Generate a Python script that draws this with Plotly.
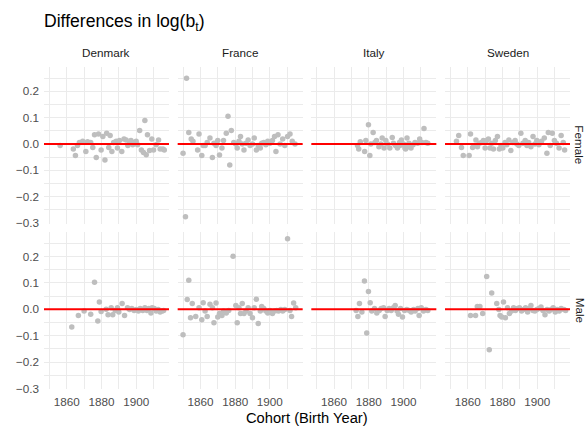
import plotly.graph_objects as go
from plotly.subplots import make_subplots

countries = ["Denmark", "France", "Italy", "Sweden"]
sexes = ["Female", "Male"]
x_ticks = [1860, 1880, 1900]

# ---- Female ----
denmark_female_year = [1856.2, 1863.8, 1865.0, 1866.2, 1867.3, 1869.2, 1871.0, 1872.0, 1873.8, 1875.0,
                       1876.0, 1877.0, 1878.3, 1879.8, 1880.8, 1882.0, 1883.0, 1884.2, 1885.0, 1886.0,
                       1887.0, 1888.5, 1889.2, 1890.4, 1891.7, 1893.0, 1894.2, 1895.2, 1896.2, 1897.0,
                       1898.0, 1899.0, 1900.0, 1900.8, 1902.0, 1903.0, 1904.2, 1905.0, 1905.8, 1906.5,
                       1907.7, 1909.0, 1910.0, 1911.5, 1912.9, 1913.8, 1915.4, 1916.2]
denmark_female_diff = [-0.006, -0.019, -0.044, -0.006, 0.006, 0.010, -0.028, 0.009, 0.006, -0.013,
                       0.035, -0.051, 0.038, -0.023, 0.028, -0.061, 0.041, -0.013, 0.032, -0.028,
                       0.006, 0.010, -0.015, 0.013, -0.028, 0.019, 0.015, -0.006, 0.003, 0.013,
                       -0.003, 0.006, 0.010, -0.003, 0.051, -0.023, -0.032, 0.089, -0.041, 0.035,
                       -0.025, 0.019, -0.023, -0.003, 0.015, -0.019, -0.019, -0.023]

france_female_year = [1850.0, 1852.0, 1851.4, 1853.3, 1854.7, 1855.7, 1858.4, 1859.2, 1860.8, 1861.6,
                      1862.7, 1863.9, 1865.5, 1866.9, 1867.8, 1869.0, 1870.0, 1871.0, 1872.4, 1873.3,
                      1874.9, 1875.9, 1876.9, 1877.8, 1879.2, 1880.4, 1881.2, 1882.2, 1883.1, 1884.1,
                      1885.1, 1886.3, 1887.5, 1888.6, 1890.0, 1891.0, 1892.2, 1893.3, 1894.5, 1895.3,
                      1896.5, 1897.7, 1898.8, 1900.0, 1901.5, 1902.7, 1903.5, 1904.7, 1905.9, 1907.4,
                      1908.6, 1910.2, 1911.6, 1912.9, 1914.5]
france_female_diff = [-0.035, 0.249, -0.276, 0.044, 0.019, 0.010, -0.023, 0.038, -0.044, -0.006,
                      -0.006, 0.006, 0.023, -0.051, 0.003, -0.006, 0.013, -0.042, -0.015, 0.013,
                      0.041, 0.105, -0.080, 0.051, 0.006, 0.000, -0.015, 0.010, 0.028, 0.000,
                      -0.023, 0.003, 0.015, -0.006, 0.000, 0.023, -0.023, -0.006, -0.015, 0.003,
                      0.006, -0.003, 0.010, 0.003, 0.013, 0.028, -0.028, 0.035, 0.000, 0.019,
                      -0.006, 0.028, 0.038, 0.010, 0.000]

italy_female_year = [1873.5, 1874.2, 1875.1, 1877.6, 1878.3, 1879.8, 1880.6, 1881.2, 1882.5, 1883.5,
                     1884.4, 1885.8, 1887.0, 1887.7, 1888.8, 1889.8, 1890.8, 1892.1, 1893.5, 1894.2,
                     1895.4, 1896.5, 1897.7, 1897.9, 1898.8, 1899.8, 1900.0, 1900.8, 1901.2, 1902.0,
                     1902.7, 1903.1, 1904.3, 1905.5, 1906.6, 1908.2, 1909.3, 1910.6, 1911.8, 1912.9,
                     1914.0]
italy_female_diff = [-0.006, -0.019, 0.009, -0.028, 0.013, 0.073, -0.044, 0.000, 0.044, 0.006,
                     0.013, -0.010, 0.000, 0.023, -0.015, 0.013, 0.000, -0.015, 0.025, 0.003,
                     -0.006, -0.015, 0.006, -0.006, 0.015, -0.003, 0.000, -0.015, -0.019, 0.023,
                     -0.010, 0.003, -0.015, -0.003, 0.006, 0.003, 0.019, 0.006, 0.059, 0.006,
                     0.003]

sweden_female_year = [1853.5, 1854.8, 1856.4, 1857.4, 1860.8, 1861.6, 1862.8, 1863.7, 1864.7, 1865.6,
                      1866.6, 1868.0, 1869.0, 1870.0, 1870.9, 1871.9, 1872.8, 1873.8, 1874.8, 1875.9,
                      1877.1, 1878.2, 1879.2, 1880.2, 1881.5, 1882.5, 1883.7, 1884.8, 1886.0, 1887.3,
                      1888.3, 1889.4, 1890.6, 1891.8, 1893.1, 1894.1, 1895.1, 1896.4, 1897.6, 1898.7,
                      1899.8, 1901.0, 1902.5, 1904.1, 1905.6, 1906.4, 1907.5, 1908.7, 1909.9, 1911.1,
                      1912.6, 1913.8, 1915.0, 1915.8]
sweden_female_diff = [0.010, 0.032, -0.013, -0.044, -0.044, 0.038, -0.013, -0.006, 0.015, -0.010,
                      0.003, 0.006, 0.013, -0.015, 0.013, 0.019, -0.015, 0.003, -0.019, 0.013,
                      0.028, -0.019, -0.006, -0.015, 0.006, -0.003, 0.015, -0.025, 0.006, 0.013,
                      0.000, -0.006, 0.041, 0.003, 0.013, -0.006, 0.006, -0.010, 0.028, 0.000,
                      0.013, -0.003, 0.010, 0.023, -0.035, 0.044, -0.006, 0.041, 0.013, 0.003,
                      -0.015, 0.032, 0.006, -0.023]

# ---- Male ----
denmark_male_year = [1862.9, 1866.7, 1870.0, 1873.8, 1876.0, 1877.9, 1878.8, 1879.8, 1882.7, 1883.8,
                     1885.6, 1886.5, 1887.9, 1889.2, 1890.0, 1891.9, 1893.3, 1895.0, 1896.2, 1897.5,
                     1898.8, 1900.0, 1901.3, 1902.3, 1903.8, 1905.0, 1906.2, 1907.3, 1908.5, 1909.2,
                     1910.4, 1911.5, 1912.7, 1913.8, 1915.0, 1915.8]
denmark_male_diff = [-0.067, -0.023, -0.006, -0.019, 0.103, -0.044, 0.028, -0.008, 0.000, -0.020,
                     0.006, -0.020, -0.004, 0.006, -0.010, 0.022, -0.023, 0.006, -0.001, 0.003,
                     -0.004, -0.001, -0.006, 0.003, -0.004, 0.006, -0.004, 0.003, -0.014, 0.006,
                     0.003, -0.006, -0.001, -0.010, -0.006, -0.004]

france_male_year = [1850.0, 1852.4, 1853.3, 1854.3, 1855.3, 1857.3, 1859.2, 1860.8, 1861.6, 1862.7,
                    1863.9, 1865.5, 1866.9, 1867.8, 1869.0, 1870.0, 1871.0, 1872.4, 1873.3, 1874.9,
                    1876.3, 1878.8, 1880.4, 1881.2, 1882.2, 1883.1, 1884.1, 1885.1, 1886.3, 1887.5,
                    1888.6, 1890.0, 1891.0, 1892.2, 1893.3, 1894.5, 1895.3, 1896.5, 1897.7, 1898.8,
                    1900.0, 1901.5, 1902.7, 1903.9, 1905.0, 1906.3, 1907.4, 1908.6, 1910.2, 1911.6,
                    1912.5, 1913.7, 1914.9]
france_male_diff = [-0.096, 0.037, 0.110, -0.032, 0.022, -0.027, 0.006, -0.039, 0.025, -0.006,
                    -0.027, 0.019, 0.006, -0.051, 0.024, -0.029, -0.016, -0.023, -0.006, -0.014,
                    -0.004, 0.201, 0.015, -0.051, 0.006, -0.016, 0.022, -0.016, -0.006, 0.006,
                    -0.016, -0.032, 0.006, 0.038, -0.054, -0.006, 0.011, 0.003, -0.006, -0.014,
                    -0.004, -0.016, -0.006, -0.004, -0.006, -0.001, -0.006, -0.001, 0.268, -0.004,
                    -0.027, 0.024, 0.006]

italy_male_year = [1872.7, 1873.7, 1874.6, 1876.0, 1877.5, 1878.8, 1879.8, 1880.8, 1881.7, 1883.3,
                   1884.6, 1886.0, 1887.1, 1888.5, 1889.4, 1890.6, 1891.7, 1892.9, 1894.2, 1895.2,
                   1896.3, 1897.1, 1898.3, 1899.4, 1900.6, 1901.9, 1903.3, 1904.4, 1905.8, 1906.7,
                   1908.3, 1909.0, 1910.2, 1911.5, 1912.9, 1914.0]
italy_male_diff = [-0.004, -0.027, 0.022, -0.010, 0.108, -0.090, 0.068, 0.025, -0.006, 0.003,
                   -0.014, -0.004, 0.003, 0.006, -0.027, -0.004, 0.003, -0.004, 0.006, 0.015,
                   -0.006, -0.019, 0.003, -0.029, -0.004, -0.001, -0.004, -0.010, -0.001, -0.006,
                   0.003, -0.023, 0.006, -0.006, -0.001, -0.004]

sweden_male_year = [1861.6, 1864.5, 1865.5, 1867.0, 1868.6, 1870.9, 1872.4, 1873.8, 1876.7, 1877.9,
                    1878.6, 1879.6, 1880.6, 1881.7, 1882.9, 1884.0, 1885.2, 1886.4, 1887.5, 1888.7,
                    1889.8, 1891.0, 1892.2, 1893.3, 1894.5, 1895.6, 1896.4, 1897.6, 1898.7, 1899.8,
                    1901.0, 1902.2, 1903.3, 1904.5, 1905.7, 1906.9, 1908.0, 1909.2, 1910.4, 1911.5,
                    1912.7, 1913.8, 1915.4, 1916.4]
sweden_male_diff = [-0.023, -0.023, 0.011, 0.011, -0.016, 0.125, -0.153, 0.062, 0.022, -0.001,
                    -0.023, -0.029, 0.028, -0.032, 0.006, -0.016, -0.006, 0.006, -0.004, 0.003,
                    0.006, -0.006, -0.001, 0.006, -0.010, 0.003, 0.015, -0.004, -0.006, -0.001,
                    0.003, 0.009, -0.004, -0.020, -0.001, -0.006, -0.001, 0.006, -0.010, -0.001,
                    -0.006, 0.003, -0.001, -0.004]

panels = {
    ("Female", "Denmark"): (denmark_female_year, denmark_female_diff),
    ("Female", "France"): (france_female_year, france_female_diff),
    ("Female", "Italy"): (italy_female_year, italy_female_diff),
    ("Female", "Sweden"): (sweden_female_year, sweden_female_diff),
    ("Male", "Denmark"): (denmark_male_year, denmark_male_diff),
    ("Male", "France"): (france_male_year, france_male_diff),
    ("Male", "Italy"): (italy_male_year, italy_male_diff),
    ("Male", "Sweden"): (sweden_male_year, sweden_male_diff),
}

FONT = "Liberation Sans, Arial, sans-serif"
GRID = "#EBEBEB"

fig = make_subplots(rows=2, cols=4, shared_xaxes=True, shared_yaxes=True,
                    horizontal_spacing=0.0165, vertical_spacing=0.027)

for r, sex in enumerate(sexes, start=1):
    for c, country in enumerate(countries, start=1):
        xs, ys = panels[(sex, country)]
        fig.add_trace(go.Scatter(x=xs, y=ys, mode="markers",
                                 marker=dict(color="#BEBEBE", size=5.5, line=dict(width=0)),
                                 showlegend=False, hoverinfo="x+y"),
                      row=r, col=c)
        fig.add_hline(y=0, line=dict(color="#FF0000", width=2), layer="above", row=r, col=c)

fig.update_xaxes(range=[1846.9, 1918.9], tickmode="array", tickvals=x_ticks,
                 showgrid=True, gridcolor=GRID, gridwidth=1,
                 minor=dict(tickmode="linear", tick0=1850, dtick=10, showgrid=True,
                            gridcolor=GRID, gridwidth=0.6),
                 zeroline=False, showline=False, ticks="",
                 tickfont=dict(family=FONT, size=11.7, color="#4D4D4D"),
                 ticklabelstandoff=4)
fig.update_yaxes(range=[-0.302, 0.292], tickmode="linear", tick0=0, dtick=0.1, tickformat=".1f",
                 showgrid=True, gridcolor=GRID, gridwidth=1,
                 minor=dict(tickmode="linear", tick0=0.05, dtick=0.1, showgrid=True,
                            gridcolor=GRID, gridwidth=0.6),
                 zeroline=False, showline=False, ticks="",
                 tickfont=dict(family=FONT, size=11.7, color="#4D4D4D"),
                 ticklabelstandoff=4)

# strip labels
for c, country in enumerate(countries, start=1):
    xa = fig.get_subplot(1, c).xaxis.domain
    fig.add_annotation(text=country, xref="paper", yref="paper",
                       x=(xa[0] + xa[1]) / 2, y=1.0435, xanchor="center", yanchor="middle",
                       showarrow=False, font=dict(family=FONT, size=11.7, color="#1A1A1A"))
for r, sex in enumerate(sexes, start=1):
    ya = fig.get_subplot(r, 1).yaxis.domain
    fig.add_annotation(text=sex, xref="paper", yref="paper",
                       x=1.019, y=(ya[0] + ya[1]) / 2, xanchor="center", yanchor="middle",
                       textangle=90, showarrow=False,
                       font=dict(family=FONT, size=11.7, color="#1A1A1A"))

fig.add_annotation(text="Cohort (Birth Year)", xref="paper", yref="paper",
                   x=0.5, y=-0.09, xanchor="center", yanchor="middle", showarrow=False,
                   font=dict(family=FONT, size=14.7, color="#000000"))

fig.update_layout(
    width=585, height=430,
    margin=dict(l=44, r=15, t=67, b=41),
    plot_bgcolor="white", paper_bgcolor="white",
    title=dict(text="Differences in log(b<sub>t</sub>)", x=44 / 585, xanchor="left",
               xref="container", y=1 - 21 / 430, yref="container", yanchor="middle",
               font=dict(family=FONT, size=17.6, color="#000000")),
    showlegend=False,
)

fig.write_html("out.html", config={"displayModeBar": False},
               post_script="document.body.style.margin='0';document.body.style.padding='0';"
                           "document.body.style.overflow='hidden';")
